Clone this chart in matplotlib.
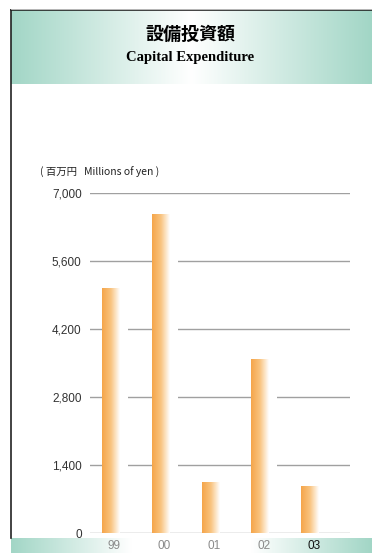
import numpy as np
import matplotlib
matplotlib.use('Agg')
import matplotlib.pyplot as plt
from matplotlib.colors import LinearSegmentedColormap

years = ['99', '00', '01', '02', '03']
capex = [5050, 6560, 1050, 3580, 970]
yticks = [0, 1400, 2800, 4200, 5600, 7000]
ytick_labels = ['0', '1,400', '2,800', '4,200', '5,600', '7,000']

W, H = 372, 553
teal = '#a2d6c6'
orange = '#f5a54a'
narrow = ['Liberation Sans Narrow', 'Liberation Sans', 'DejaVu Sans']

fig = plt.figure(figsize=(W / 100, H / 100), dpi=100)

# background layer in pixel coords
bg = fig.add_axes([0, 0, 1, 1], zorder=0)
bg.set_xlim(0, W)
bg.set_ylim(H, 0)
bg.axis('off')

band_cmap = LinearSegmentedColormap.from_list('band', [teal, '#ffffff', teal])
grad = np.linspace(0, 1, 256).reshape(1, -1)
# header band
bg.imshow(grad, cmap=band_cmap, extent=(11, W, 84, 10), aspect='auto')
# bottom band
bot_cmap = LinearSegmentedColormap.from_list('bot', [teal, '#ffffff', '#ffffff', teal])
bg.imshow(grad, cmap=bot_cmap, extent=(11, W, H, 538), aspect='auto')
# frame lines
bg.plot([11, W], [10, 10], color='#222222', lw=1.2)
bg.plot([11, 11], [10, 538], color='#222222', lw=1.2)
bg.plot([11, W], [9, 9], color='#cccccc', lw=0.6)

bg.text(190, 34, '設備投資額', fontsize=13, fontweight='bold',
        family=['Noto Sans CJK JP', 'DejaVu Sans'], ha='center', va='center')
bg.text(190, 57, 'Capital Expenditure', fontsize=10.5, fontweight='bold',
        family=['Liberation Serif', 'DejaVu Serif'], ha='center', va='center')
bg.text(40, 172, '( 百万円   Millions of yen )', fontsize=7.5,
        family=['Noto Sans CJK JP', 'DejaVu Sans'], ha='left', va='center',
        color='#222222')

# chart axes
ax = fig.add_axes([90 / W, (H - 533) / H, 260 / W, 340 / H], zorder=1)
ax.set_facecolor('none')
ax.set_xlim(-0.42, 4.8)
ax.set_ylim(0, 7000)
for s in ax.spines.values():
    s.set_visible(False)
ax.set_xticks([])
ax.set_yticks(yticks)
ax.set_yticklabels(ytick_labels, family=narrow, fontsize=8.5, color='#333333')
ax.tick_params(axis='y', length=0, pad=6)
for t in yticks:
    ax.axhline(t, color='#a0a0a0', lw=1, zorder=1)

x = np.arange(len(years))
bars = ax.bar(x, capex, width=0.36, color='none', zorder=2)
bar_cmap = LinearSegmentedColormap.from_list('bar', [orange, '#f9c480', '#ffffff'])
for b in bars:
    x0, w, h = b.get_x(), b.get_width(), b.get_height()
    # white gap to the right of each bar breaks the grid lines
    ax.add_patch(plt.Rectangle((x0, 100), w + 0.16, h - 100, color='white',
                               lw=0, zorder=2))
    im = ax.imshow(grad, cmap=bar_cmap, extent=(x0, x0 + w, 0, h),
                   aspect='auto', zorder=3)
    im.set_clip_path(b)

for i, yr in enumerate(years):
    col = '#111111' if i == len(years) - 1 else '#8a8a8a'
    bg.text(90 + (x[i] + 0.42) * 50 + 3, 546, yr, fontsize=8.5, family=narrow,
            color=col, ha='center', va='center')

fig.savefig('out.png', dpi=100)
